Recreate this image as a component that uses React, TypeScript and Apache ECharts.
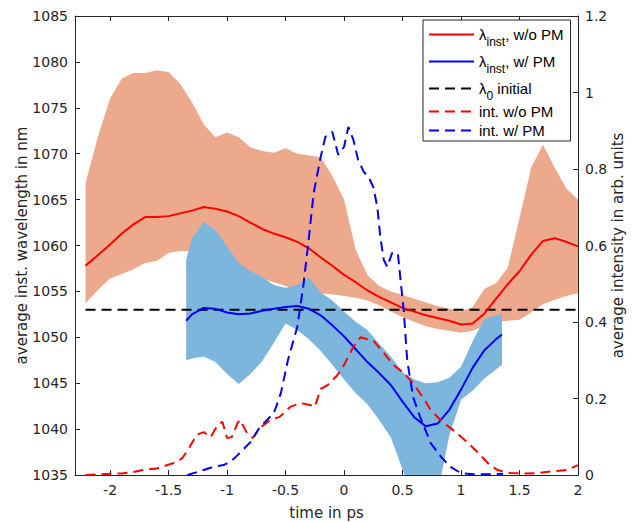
import React, { useEffect, useRef } from 'react';
import * as echarts from 'echarts';

// ---- data ----
const X_TICKS = [-2, -1.5, -1, -0.5, 0, 0.5, 1, 1.5, 2];

const T_RED = [-2.21, -2.1, -2.0, -1.9, -1.8, -1.7, -1.6, -1.5, -1.4, -1.3, -1.2, -1.1, -1.0, -0.9, -0.8, -0.7, -0.6, -0.5, -0.4, -0.3, -0.2, -0.1, 0.0, 0.1, 0.2, 0.3, 0.4, 0.5, 0.6, 0.7, 0.8, 0.9, 1.0, 1.1, 1.2, 1.3, 1.4, 1.5, 1.6, 1.7, 1.8, 1.9, 2.0];
const RED_MEAN = [1057.8, 1059.0, 1060.1, 1061.3, 1062.3, 1063.1, 1063.1, 1063.2, 1063.5, 1063.8, 1064.2, 1064.0, 1063.7, 1063.2, 1062.5, 1061.8, 1061.3, 1060.9, 1060.4, 1059.7, 1058.7, 1057.8, 1056.8, 1056.0, 1055.1, 1054.4, 1053.8, 1053.2, 1052.8, 1052.4, 1052.1, 1051.8, 1051.4, 1051.5, 1052.6, 1054.2, 1055.8, 1057.2, 1059.0, 1060.5, 1060.8, 1060.4, 1059.9];
const RED_UPPER = [1066.8, 1072.0, 1076.0, 1078.2, 1078.8, 1078.8, 1079.1, 1078.9, 1077.6, 1075.6, 1073.2, 1071.8, 1072.3, 1071.8, 1070.7, 1070.3, 1070.1, 1070.6, 1070.0, 1069.8, 1069.6, 1067.6, 1065.0, 1059.5, 1056.8, 1055.6, 1055.0, 1054.6, 1054.2, 1053.8, 1053.4, 1053.1, 1052.8, 1053.3, 1055.3, 1055.9, 1057.6, 1063.0, 1068.5, 1071.0, 1068.5, 1066.2, 1065.0];
const RED_LOWER = [1053.7, 1055.2, 1056.4, 1056.9, 1057.4, 1058.1, 1058.3, 1059.2, 1059.4, 1059.4, 1059.1, 1058.6, 1058.1, 1057.5, 1056.9, 1056.4, 1056.0, 1055.6, 1055.3, 1055.0, 1054.8, 1054.7, 1054.5, 1054.3, 1054.0, 1053.5, 1052.8, 1052.2, 1051.7, 1051.2, 1050.9, 1050.7, 1050.5, 1050.7, 1051.2, 1051.7, 1051.8, 1051.9, 1052.7, 1053.6, 1054.1, 1054.5, 1054.8];

const T_BLUE = [-1.35, -1.3, -1.2, -1.1, -1.0, -0.9, -0.8, -0.7, -0.6, -0.5, -0.4, -0.3, -0.2, -0.1, 0.0, 0.1, 0.2, 0.3, 0.4, 0.5, 0.6, 0.7, 0.8, 0.9, 1.0, 1.1, 1.2, 1.3, 1.35];
const BLUE_MEAN = [1051.8, 1052.5, 1053.2, 1053.1, 1052.7, 1052.5, 1052.6, 1052.9, 1053.1, 1053.3, 1053.4, 1053.1, 1052.4, 1051.3, 1050.1, 1048.7, 1047.3, 1046.1, 1044.8, 1043.0, 1041.3, 1040.3, 1040.6, 1042.1, 1044.3, 1046.7, 1048.6, 1049.8, 1050.3];
const BLUE_UPPER = [1058.4, 1060.8, 1062.6, 1061.7, 1059.9, 1058.1, 1057.2, 1056.6, 1055.7, 1055.4, 1055.7, 1056.5, 1054.9, 1054.0, 1052.8, 1051.7, 1050.8, 1049.3, 1047.9, 1046.2, 1045.4, 1045.0, 1045.1, 1045.6, 1046.8, 1049.6, 1052.0, 1052.4, 1052.6];
const BLUE_LOWER = [1047.5, 1047.7, 1047.9, 1047.3, 1046.0, 1044.9, 1046.0, 1047.4, 1049.4, 1051.5, 1050.8, 1049.8, 1048.5, 1047.0, 1045.4, 1043.9, 1042.7, 1041.0, 1039.1, 1035.6, 1032.5, 1031.5, 1033.0, 1039.3, 1043.2, 1044.2, 1045.5, 1046.5, 1047.0];

const LAMBDA0 = 1053;
const T_LAMBDA0 = [-2.21, 2.0];

const T_INT_RED = [-2.21, -2.1, -2.0, -1.9, -1.8, -1.72, -1.6, -1.51, -1.43, -1.38, -1.32, -1.26, -1.2, -1.14, -1.08, -1.04, -1.0, -0.96, -0.91, -0.89, -0.83, -0.78, -0.72, -0.63, -0.55, -0.46, -0.37, -0.29, -0.25, -0.2, -0.14, -0.06, -0.01, 0.08, 0.14, 0.2, 0.25, 0.34, 0.42, 0.51, 0.59, 0.69, 0.74, 0.84, 0.93, 1.06, 1.14, 1.23, 1.31, 1.42, 1.55, 1.65, 1.79, 1.91, 2.0];
const INT_RED = [0, 0.002, 0.003, 0.004, 0.008, 0.013, 0.017, 0.026, 0.034, 0.045, 0.073, 0.105, 0.112, 0.099, 0.131, 0.139, 0.097, 0.099, 0.136, 0.144, 0.11, 0.097, 0.123, 0.144, 0.152, 0.178, 0.188, 0.183, 0.178, 0.225, 0.235, 0.26, 0.282, 0.335, 0.36, 0.355, 0.352, 0.319, 0.288, 0.267, 0.24, 0.196, 0.17, 0.139, 0.118, 0.084, 0.06, 0.031, 0.013, 0.005, 0.004, 0.005, 0.01, 0.013, 0.026];

const T_INT_BLUE = [-1.34, -1.2, -1.12, -1.03, -0.97, -0.91, -0.8, -0.72, -0.6, -0.54, -0.48, -0.4, -0.35, -0.305, -0.26, -0.2, -0.16, -0.1, -0.05, 0.0, 0.037, 0.08, 0.12, 0.17, 0.21, 0.25, 0.285, 0.31, 0.34, 0.37, 0.41, 0.46, 0.48, 0.51, 0.54, 0.59, 0.65, 0.74, 0.83, 0.91, 1.0, 1.1, 1.25, 1.36];
const INT_BLUE = [0, 0.013, 0.021, 0.026, 0.035, 0.052, 0.086, 0.125, 0.162, 0.214, 0.3, 0.387, 0.49, 0.607, 0.737, 0.831, 0.884, 0.897, 0.837, 0.858, 0.91, 0.876, 0.824, 0.792, 0.779, 0.753, 0.7, 0.622, 0.562, 0.544, 0.58, 0.58, 0.518, 0.431, 0.3, 0.204, 0.152, 0.084, 0.047, 0.021, 0.005, 0.002, 0.002, 0.003];

const NAMES = ['λinst, w/o PM', 'λinst, w/ PM', 'λ0 initial', 'int. w/o PM', 'int. w/ PM'];
const LEGEND_RICH: Record<string, string> = {
  'λinst, w/o PM': '{m|λ}{s|inst}{m|, w/o PM}',
  'λinst, w/ PM': '{m|λ}{s|inst}{m|, w/ PM}',
  'λ0 initial': '{m|λ}{s|0}{m| initial}',
  'int. w/o PM': 'int. w/o PM',
  'int. w/ PM': 'int. w/ PM',
};

const FONT = 'DejaVu Sans';
const LEGEND_FONT = 'Liberation Sans';
const AXIS_COLOR = '#262626';
const RED_FILL = '#EDA98B';
const BLUE_FILL = '#7DB6DD';

export default function App() {
  const ref = useRef<HTMLDivElement>(null);

  useEffect(() => {
    const chart = echarts.init(ref.current!, null, { renderer: 'svg' });
    const pairs = (t: number[], v: number[]) => t.map((x, i) => [x, v[i]]);
    const dash = [10, 6];

    // filled band between an upper and a lower curve, drawn through the axes' scales
    const band = (name: string, t: number[], upper: number[], lower: number[], fill: string, z: number) => ({
      name,
      type: 'custom',
      silent: true,
      z,
      clip: true,
      data: pairs(t, upper),
      encode: { x: 0, y: 1 },
      renderItem: (params: any, api: any) => {
        if (params.dataIndex !== 0) return null;
        const pts: number[][] = [];
        for (let i = 0; i < t.length; i++) pts.push(api.coord([t[i], upper[i]]));
        for (let i = t.length - 1; i >= 0; i--) pts.push(api.coord([t[i], lower[i]]));
        const cs = params.coordSys;
        return {
          type: 'group',
          clipPath: { type: 'rect', shape: { x: cs.x, y: cs.y, width: cs.width, height: cs.height } },
          children: [
            { type: 'polygon', shape: { points: pts }, style: { fill, stroke: 'none' } },
          ],
        };
      },
    });

    const yAxisCommon = {
      type: 'value' as const,
      axisLine: { show: true, onZero: false, lineStyle: { color: AXIS_COLOR, width: 1 } },
      axisTick: { show: true, inside: true, length: 5, lineStyle: { color: AXIS_COLOR } },
      axisLabel: { fontSize: 14, fontFamily: FONT, color: AXIS_COLOR, margin: 7, formatter: (v: number) => String(+v.toFixed(4)) },
      splitLine: { show: false },
      nameLocation: 'middle' as const,
      nameRotate: 90,
      nameMoveOverlap: false,
      nameTextStyle: { fontSize: 15, fontFamily: FONT, color: AXIS_COLOR },
    };

    const option: any = {
      animation: false,
      backgroundColor: '#ffffff',
      grid: { left: 75, right: 55, top: 16, bottom: 47, containLabel: false, outerBoundsMode: 'none' },
      xAxis: [
        {
          type: 'value',
          min: -2.3,
          max: 2,
          name: 'time in ps',
          nameLocation: 'middle',
          nameGap: 30,
          nameMoveOverlap: false,
          nameTextStyle: { fontSize: 15, fontFamily: FONT, color: AXIS_COLOR },
          axisLine: { show: true, onZero: false, lineStyle: { color: AXIS_COLOR, width: 1 } },
          axisTick: { show: true, inside: true, length: 5, customValues: X_TICKS, lineStyle: { color: AXIS_COLOR } },
          axisLabel: { fontSize: 14, fontFamily: FONT, color: AXIS_COLOR, margin: 8, customValues: X_TICKS, formatter: (v: number) => String(v) },
          splitLine: { show: false },
        },
        {
          type: 'value',
          position: 'top',
          min: -2.3,
          max: 2,
          axisLine: { show: true, onZero: false, lineStyle: { color: AXIS_COLOR, width: 1 } },
          axisTick: { show: true, inside: true, length: 5, customValues: X_TICKS, lineStyle: { color: AXIS_COLOR } },
          axisLabel: { show: false },
          splitLine: { show: false },
        },
      ],
      yAxis: [
        {
          ...yAxisCommon,
          position: 'left',
          min: 1035,
          max: 1085,
          interval: 5,
          name: 'average inst. wavelength in nm',
          nameGap: 46,
        },
        {
          ...yAxisCommon,
          position: 'right',
          min: 0,
          max: 1.2,
          interval: 0.2,
          name: 'average intensity in arb. units',
          nameGap: 32,
        },
      ],
      legend: {
        data: NAMES,
        orient: 'vertical',
        left: 423,
        top: 20,
        padding: [1.5, 7, 1.5, 5],
        itemGap: 1,
        itemWidth: 45,
        itemHeight: 14,
        backgroundColor: '#ffffff',
        borderColor: AXIS_COLOR,
        borderWidth: 1,
        borderRadius: 0,
        itemStyle: { opacity: 0, borderWidth: 0 },
        formatter: (name: string) => LEGEND_RICH[name] || name,
        textStyle: {
          fontFamily: LEGEND_FONT,
          fontSize: 15,
          color: '#000',
          lineHeight: 18,
          rich: {
            m: { fontFamily: LEGEND_FONT, fontSize: 15, color: '#000', lineHeight: 26, verticalAlign: 'middle' },
            s: { fontFamily: LEGEND_FONT, fontSize: 12, color: '#000', lineHeight: 5, verticalAlign: 'bottom' },
          },
        },
      },
      series: [
        band('redBand', T_RED, RED_UPPER, RED_LOWER, RED_FILL, 1),
        band('blueBand', T_BLUE, BLUE_UPPER, BLUE_LOWER, BLUE_FILL, 2),
        {
          name: NAMES[2], type: 'line', symbol: 'none', z: 3,
          itemStyle: { color: '#000000' },
          lineStyle: { color: '#000000', width: 2, type: dash },
          data: T_LAMBDA0.map((t) => [t, LAMBDA0]),
        },
        {
          name: NAMES[0], type: 'line', symbol: 'none', z: 4,
          itemStyle: { color: '#ff0000' },
          lineStyle: { color: '#ff0000', width: 2 },
          data: pairs(T_RED, RED_MEAN),
        },
        {
          name: NAMES[1], type: 'line', symbol: 'none', z: 4,
          itemStyle: { color: '#0000ff' },
          lineStyle: { color: '#0000ff', width: 2 },
          data: pairs(T_BLUE, BLUE_MEAN),
        },
        {
          name: NAMES[3], type: 'line', symbol: 'none', yAxisIndex: 1, z: 5,
          itemStyle: { color: '#ff0000' },
          lineStyle: { color: '#ff0000', width: 2, type: dash },
          data: pairs(T_INT_RED, INT_RED),
        },
        {
          name: NAMES[4], type: 'line', symbol: 'none', yAxisIndex: 1, z: 5,
          itemStyle: { color: '#0000ff' },
          lineStyle: { color: '#0000ff', width: 2, type: dash },
          data: pairs(T_INT_BLUE, INT_BLUE),
        },
      ],
    };

    chart.setOption(option);
    return () => chart.dispose();
  }, []);

  return (
    <div
      ref={ref}
      style={{ position: 'absolute', left: 0, top: 0, width: 633, height: 522 }}
    />
  );
}
